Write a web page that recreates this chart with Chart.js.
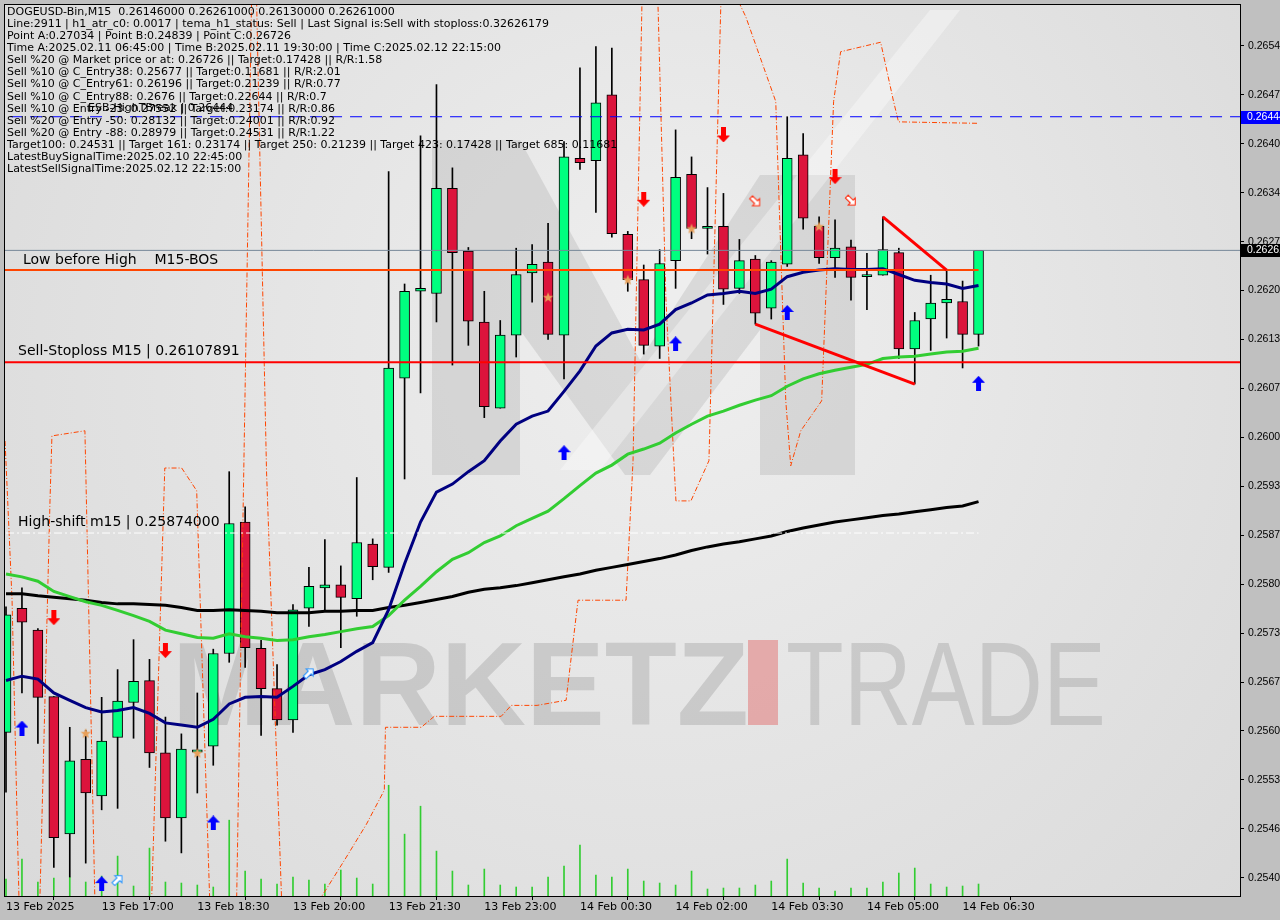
<!DOCTYPE html>
<html>
<head>
<meta charset="utf-8">
<title>DOGEUSD-Bin,M15</title>
<script src="https://cdn.jsdelivr.net/npm/chart.js@4.4.1/dist/chart.umd.min.js"></script>
<style>
  html, body { margin: 0; padding: 0; background: #c0c0c0; }
  #wrap { width: 1280px; height: 920px; }
</style>
</head>
<body>
<div id="wrap"><canvas id="chart" width="1280" height="920"></canvas></div>
<script>
// 15 minute candles, 13 Feb 15:30 .. 14 Feb 06:45 (index 0..61)
const opens = [0.25601, 0.25771, 0.25741, 0.25650, 0.25462, 0.25564, 0.25514, 0.25594, 0.25642, 0.25672,
  0.25573, 0.25484, 0.25574, 0.25582, 0.25709, 0.25889, 0.25716, 0.25661, 0.25618, 0.25771,
  0.25799, 0.25803, 0.25784, 0.25859, 0.25827, 0.26086, 0.26205, 0.26202, 0.26346, 0.26260,
  0.26163, 0.26045, 0.26145, 0.26230, 0.26245, 0.26145, 0.26387, 0.26384, 0.26474, 0.26283,
  0.26221, 0.26130, 0.26247, 0.26365, 0.26291, 0.26294, 0.26209, 0.26249, 0.26182, 0.26242,
  0.26392, 0.26294, 0.26251, 0.26266, 0.26225, 0.26227, 0.26258, 0.26126, 0.26167, 0.26189,
  0.26191, 0.26146];
const highs = [0.25773, 0.25799, 0.25743, 0.25650, 0.25608, 0.25604, 0.25649, 0.25687, 0.25728, 0.25701,
  0.25622, 0.25599, 0.25655, 0.25715, 0.25958, 0.25910, 0.25727, 0.25694, 0.25776, 0.25827,
  0.25865, 0.25829, 0.25950, 0.25866, 0.26369, 0.26215, 0.26418, 0.26488, 0.26374, 0.26265,
  0.26205, 0.26165, 0.26264, 0.26269, 0.26298, 0.26410, 0.26511, 0.26540, 0.26538, 0.26287,
  0.26241, 0.26262, 0.26426, 0.26389, 0.26347, 0.26339, 0.26276, 0.26254, 0.26247, 0.26444,
  0.26421, 0.26307, 0.26303, 0.26275, 0.26257, 0.26307, 0.26264, 0.26176, 0.26227, 0.26234,
  0.26219, 0.26261];
const lows = [0.25519, 0.25655, 0.25586, 0.25416, 0.25403, 0.25422, 0.25495, 0.25497, 0.25593, 0.25553,
  0.25452, 0.25436, 0.25518, 0.25556, 0.25697, 0.25690, 0.25597, 0.25611, 0.25601, 0.25746,
  0.25769, 0.25717, 0.25760, 0.25810, 0.25820, 0.25948, 0.26066, 0.26163, 0.26104, 0.26131,
  0.26032, 0.26045, 0.26115, 0.26190, 0.26139, 0.26085, 0.26372, 0.26313, 0.26279, 0.26205,
  0.26119, 0.26113, 0.26209, 0.26277, 0.26256, 0.26187, 0.26202, 0.26160, 0.26167, 0.26239,
  0.26290, 0.26243, 0.26224, 0.26193, 0.26180, 0.26227, 0.26113, 0.26078, 0.26124, 0.26141,
  0.26100, 0.26130];
const closes = [0.25762, 0.25752, 0.25649, 0.25457, 0.25562, 0.25518, 0.25589, 0.25644, 0.25671, 0.25573,
  0.25484, 0.25578, 0.25577, 0.25709, 0.25887, 0.25717, 0.25661, 0.25618, 0.25769, 0.25801,
  0.25803, 0.25786, 0.25861, 0.25828, 0.26100, 0.26205, 0.26209, 0.26346, 0.26258, 0.26164,
  0.26047, 0.26145, 0.26228, 0.26242, 0.26146, 0.26389, 0.26381, 0.26463, 0.26284, 0.26221,
  0.26131, 0.26243, 0.26361, 0.26291, 0.26294, 0.26208, 0.26247, 0.26175, 0.26245, 0.26387,
  0.26305, 0.26251, 0.26264, 0.26224, 0.26228, 0.26262, 0.26126, 0.26165, 0.26189, 0.26194,
  0.26146, 0.26261];
const volumes = [170, 370, 140, 180, 190, 140, 200, 400, 100, 480, 140, 130, 110, 90, 760, 250, 170, 120, 190, 160,
  120, 260, 180, 120, 1110, 620, 900, 450, 250, 110, 270, 110, 90, 90, 190, 300, 510, 210, 190, 270,
  150, 130, 110, 250, 70, 80, 80, 110, 150, 370, 130, 80, 50, 80, 80, 140, 230, 280, 120, 90, 100, 120];

// moving averages
const maFast = [0.25672, 0.25678, 0.25674, 0.25655, 0.25645, 0.25635, 0.25629, 0.25631, 0.25635, 0.25627,
  0.25614, 0.25611, 0.25608, 0.25619, 0.25640, 0.25649, 0.25650, 0.25649, 0.25664, 0.25680,
  0.25687, 0.25698, 0.25712, 0.25724, 0.25769, 0.25832, 0.25889, 0.25930, 0.25941, 0.25958,
  0.25973, 0.26000, 0.26023, 0.26034, 0.26041, 0.26068, 0.26096, 0.26130, 0.26148, 0.26153,
  0.26152, 0.26160, 0.26180, 0.26189, 0.26200, 0.26202, 0.26205, 0.26202, 0.26208, 0.26225,
  0.26231, 0.26234, 0.26236, 0.26235, 0.26235, 0.26236, 0.26228, 0.26220, 0.26217, 0.26215,
  0.26209, 0.26213];
const maMid = [0.25818, 0.25814, 0.25808, 0.25794, 0.25787, 0.25780, 0.25775, 0.25768, 0.25761, 0.25753,
  0.25741, 0.25736, 0.25731, 0.25730, 0.25736, 0.25732, 0.25730, 0.25727, 0.25728, 0.25732,
  0.25735, 0.25739, 0.25743, 0.25746, 0.25761, 0.25782, 0.25801, 0.25821, 0.25838, 0.25847,
  0.25861, 0.25870, 0.25884, 0.25894, 0.25904, 0.25921, 0.25939, 0.25956, 0.25967, 0.25982,
  0.25989, 0.25997, 0.26011, 0.26023, 0.26034, 0.26041, 0.26049, 0.26056, 0.26062, 0.26075,
  0.26085, 0.26092, 0.26097, 0.26101, 0.26105, 0.26113, 0.26115, 0.26116, 0.26119, 0.26122,
  0.26123, 0.26127];
const maSlow = [0.25791, 0.25791, 0.25788, 0.25786, 0.25784, 0.25782, 0.25779, 0.25777, 0.25777, 0.25776,
  0.25775, 0.25772, 0.25768, 0.25768, 0.25769, 0.25768, 0.25767, 0.25765, 0.25765, 0.25765,
  0.25767, 0.25767, 0.25768, 0.25768, 0.25772, 0.25775, 0.25779, 0.25783, 0.25787, 0.25793,
  0.25797, 0.25799, 0.25802, 0.25806, 0.25810, 0.25814, 0.25818, 0.25823, 0.25827, 0.25831,
  0.25835, 0.25839, 0.25844, 0.25850, 0.25855, 0.25859, 0.25862, 0.25866, 0.25870, 0.25876,
  0.25881, 0.25885, 0.25889, 0.25892, 0.25895, 0.25898, 0.25900, 0.25903, 0.25906, 0.25909,
  0.25911, 0.25917];

// stepped channel (dash-dot orange)
const chanIdx = [-0.06, 0.38, 0.81, 2.13, 2.76, 2.88, 4.95, 5.57, 9.14, 9.96, 11.02, 11.96, 12.77, 14.47, 15.40, 15.72,
  16.34, 17.28, 19.79, 21.20, 22.60, 23.73, 23.80, 26.05, 26.86, 31.06, 31.69, 33.31, 35.13, 35.88, 38.89, 39.33, 39.89,
  40.89, 41.39, 41.89, 42.02, 42.96, 44.09, 44.84, 45.96, 46.40, 48.28, 48.91, 49.22, 49.85, 51.16, 51.91, 52.35,
  54.86, 55.67, 55.98, 60.93];
const chanPrice = [0.26000, 0.25782, 0.25376, 0.25376, 0.25918, 0.26007, 0.26014, 0.25376, 0.25376, 0.25963, 0.25963,
  0.25932, 0.25376, 0.25376, 0.26601, 0.26601, 0.25959, 0.25376, 0.25376, 0.25425, 0.25475, 0.25522, 0.25608, 0.25608,
  0.25623, 0.25623, 0.25638, 0.25638, 0.25645, 0.25782, 0.25782, 0.25973, 0.26601, 0.26601, 0.26195, 0.25973, 0.25918,
  0.25918, 0.25973, 0.26601, 0.26601, 0.26581, 0.26465, 0.26055, 0.25966, 0.26014, 0.26055, 0.26465, 0.26533, 0.26546,
  0.26465, 0.26437, 0.26435];

// signals
const buyIdx = [1, 6, 13, 35, 42, 49, 61];
const buyPrice = [0.25607, 0.25394, 0.25477, 0.25984, 0.26133, 0.26176, 0.26079];
const sellIdx = [3, 10, 40, 45, 52];
const sellPrice = [0.25758, 0.25713, 0.26331, 0.26419, 0.26362];
const hollowBuyIdx = [7, 19];
const hollowBuyPrice = [0.25399, 0.25682];
const hollowSellIdx = [47, 53];
const hollowSellPrice = [0.26328, 0.26329];
const starIdx = [5, 12, 34, 39, 43, 51];
const starPrice = [0.25600, 0.25573, 0.26197, 0.26221, 0.26291, 0.26294];

// levels
const bosLevel = 0.26234;
const stopLevel = 0.26107891;
const lastPrice = 0.26261;
const esbLevel = 0.26444;
const highShift = 0.25874;
const triUpperIdx = [55, 59];
const triUpperPrice = [0.26307, 0.26234];
const triLowerIdx = [47, 57];
const triLowerPrice = [0.26160, 0.26078];

// axes
const xTickIdx = [0, 6, 12, 18, 24, 30, 36, 42, 48, 54, 60];
const xTickLabels = ['13 Feb 2025', '13 Feb 17:00', '13 Feb 18:30', '13 Feb 20:00', '13 Feb 21:30', '13 Feb 23:00',
  '14 Feb 00:30', '14 Feb 02:00', '14 Feb 03:30', '14 Feb 05:00', '14 Feb 06:30'];
const yTickValues = [0.26541, 0.26474, 0.26407, 0.26340, 0.26273, 0.26206, 0.26139, 0.26072, 0.26005,
  0.25938, 0.25871, 0.25804, 0.25737, 0.25670, 0.25603, 0.25536, 0.25469, 0.25402];
const yTickLabels = ['0.26541', '0.26474', '0.26407', '0.26340', '0.26273', '0.26206', '0.26139', '0.26072', '0.26005',
  '0.25938', '0.25871', '0.25804', '0.25737', '0.25670', '0.25603', '0.25536', '0.25469', '0.25402'];

const infoLines = [
  'DOGEUSD-Bin,M15  0.26146000 0.26261000 0.26130000 0.26261000',
  'Line:2911 | h1_atr_c0: 0.0017 | tema_h1_status: Sell | Last Signal is:Sell with stoploss:0.32626179',
  'Point A:0.27034 | Point B:0.24839 | Point C:0.26726',
  'Time A:2025.02.11 06:45:00 | Time B:2025.02.11 19:30:00 | Time C:2025.02.12 22:15:00',
  'Sell %20 @ Market price or at: 0.26726 || Target:0.17428 || R/R:1.58',
  'Sell %10 @ C_Entry38: 0.25677 || Target:0.11681 || R/R:2.01',
  'Sell %10 @ C_Entry61: 0.26196 || Target:0.21239 || R/R:0.77',
  'Sell %10 @ C_Entry88: 0.2676 || Target:0.22644 || R/R:0.7',
  'Sell %10 @ Entry -23: 0.27552 || Target:0.23174 || R/R:0.86',
  'Sell %20 @ Entry -50: 0.28132 || Target:0.24001 || R/R:0.92',
  'Sell %20 @ Entry -88: 0.28979 || Target:0.24531 || R/R:1.22',
  'Target100: 0.24531 || Target 161: 0.23174 || Target 250: 0.21239 || Target 423: 0.17428 || Target 685: 0.11681',
  'LatestBuySignalTime:2025.02.10 22:45:00',
  'LatestSellSignalTime:2025.02.12 22:15:00'
];

const GREEN = '#00FF7F';
const RED = '#DC143C';

function pts(xs, ys) { return xs.map((x, i) => ({ x: x, y: ys[i] })); }

// small signal glyphs used as point styles
function fatArrow(color, down) {
  const c = document.createElement('canvas');
  c.width = 13; c.height = 15;
  const g = c.getContext('2d');
  if (down) { g.translate(0, 15); g.scale(1, -1); }
  g.fillStyle = color;
  g.beginPath();
  g.moveTo(6.5, 0); g.lineTo(13, 7); g.lineTo(9, 7); g.lineTo(9, 15);
  g.lineTo(4, 15); g.lineTo(4, 7); g.lineTo(0, 7); g.closePath();
  g.fill();
  return c;
}
function hollowArrow(color, angle) {
  const c = document.createElement('canvas');
  c.width = 16; c.height = 16;
  const g = c.getContext('2d');
  g.translate(8, 8); g.rotate(angle);
  g.beginPath();
  g.moveTo(0, -6); g.lineTo(5, -1); g.lineTo(2, -1); g.lineTo(2, 6);
  g.lineTo(-2, 6); g.lineTo(-2, -1); g.lineTo(-5, -1); g.closePath();
  g.fillStyle = '#ffffff'; g.fill();
  g.strokeStyle = color; g.lineWidth = 1; g.stroke();
  return c;
}
function star() {
  const c = document.createElement('canvas');
  c.width = 12; c.height = 12;
  const g = c.getContext('2d');
  g.translate(6, 6.5);
  g.beginPath();
  for (let k = 0; k < 10; k++) {
    const r = k % 2 ? 2.3 : 5.5;
    const a = -Math.PI / 2 + k * Math.PI / 5;
    g.lineTo(r * Math.cos(a), r * Math.sin(a));
  }
  g.closePath();
  g.fillStyle = '#E8A05A'; g.fill();
  return c;
}

const backdrop = {
  id: 'backdrop',
  beforeDraw(chart) {
    const { ctx, chartArea: a } = chart;
    ctx.save();
    ctx.fillStyle = '#c0c0c0';
    ctx.fillRect(0, 0, chart.width, chart.height);
    const g = ctx.createRadialGradient(a.left + a.width * 0.55, a.top + a.height * 0.35, 40,
      a.left + a.width * 0.5, a.top + a.height * 0.45, a.width * 0.8);
    g.addColorStop(0, '#eeeeee');
    g.addColorStop(1, '#d5d5d5');
    ctx.fillStyle = g;
    ctx.fillRect(a.left, a.top, a.width, a.height);

    ctx.beginPath();
    ctx.rect(a.left, a.top, a.width, a.height);
    ctx.clip();
    // big "M" logo
    ctx.fillStyle = 'rgba(120,120,120,0.18)';
    ctx.beginPath();
    ctx.moveTo(432, 475); ctx.lineTo(432, 140); ctx.lineTo(520, 140); ctx.lineTo(640, 360);
    ctx.lineTo(760, 175); ctx.lineTo(855, 175); ctx.lineTo(855, 475); ctx.lineTo(760, 475);
    ctx.lineTo(760, 330); ctx.lineTo(650, 475); ctx.lineTo(625, 475); ctx.lineTo(520, 330);
    ctx.lineTo(520, 475); ctx.closePath();
    ctx.fill();
    ctx.fillStyle = 'rgba(255,255,255,0.35)';
    ctx.beginPath();
    ctx.moveTo(560, 470); ctx.lineTo(930, 10); ctx.lineTo(960, 10); ctx.lineTo(600, 470);
    ctx.closePath();
    ctx.fill();
    // MARKETZ | TRADE
    ctx.textBaseline = 'alphabetic';
    ctx.fillStyle = 'rgba(150,150,150,0.35)';
    ctx.font = 'bold 118px "Liberation Sans", Arial, sans-serif';
    ctx.fillText('MARKETZ', 172, 725);
    ctx.fillStyle = 'rgba(225,120,120,0.55)';
    ctx.fillRect(748, 640, 30, 85);
    ctx.save();
    ctx.translate(786, 725);
    ctx.scale(0.8, 1);
    ctx.fillStyle = 'rgba(150,150,150,0.35)';
    ctx.font = '118px "Liberation Sans", Arial, sans-serif';
    ctx.fillText('TRADE', 0, 0);
    ctx.restore();
    ctx.restore();
  }
};

const overlay = {
  id: 'overlay',
  afterDraw(chart) {
    const { ctx, chartArea: a } = chart;
    const y = chart.scales.y;
    ctx.save();
    // frame
    ctx.strokeStyle = '#000';
    ctx.lineWidth = 1;
    ctx.strokeRect(a.left - 0.5, a.top - 0.5, a.width + 1, a.height + 1);

    // info block
    ctx.fillStyle = '#000';
    ctx.font = '11px "DejaVu Sans", sans-serif';
    ctx.textBaseline = 'middle';
    infoLines.forEach((t, i) => ctx.fillText(t, 7, 12 + i * 12.1));
    ctx.fillText('ESB-HighTBreak | 0.26444', 88, 108);

    // level captions
    ctx.font = '14px "DejaVu Sans", sans-serif';
    ctx.textBaseline = 'bottom';
    ctx.fillText('Low before High    M15-BOS', 23, y.getPixelForValue(bosLevel) - 3);
    ctx.fillText('Sell-Stoploss M15 | ' + stopLevel.toFixed(8), 18, y.getPixelForValue(stopLevel) - 4);
    ctx.fillText('High-shift m15 | ' + highShift.toFixed(8), 18, y.getPixelForValue(highShift) - 4);

    // price badges on the axis
    ctx.font = '10.5px "Liberation Sans", Arial, sans-serif';
    ctx.textBaseline = 'middle';
    [[esbLevel, '#0000FF'], [lastPrice, '#000000']].forEach(([v, col]) => {
      const py = Math.round(y.getPixelForValue(v));
      ctx.fillStyle = col;
      ctx.fillRect(a.right + 1, py - 6, chart.width - a.right, 13);
      ctx.fillStyle = '#fff';
      ctx.fillText(v.toFixed(5), a.right + 7, py + 0.5);
    });
    ctx.restore();
  }
};

function hline(v, x0, x1, color, width, dash, order) {
  return { type: 'line', data: pts([x0, x1], [v, v]), borderColor: color, borderWidth: width,
    borderDash: dash || [], pointRadius: 0, order: order };
}

new Chart(document.getElementById('chart'), {
  type: 'bar',
  data: {
    datasets: [
      { type: 'bar', yAxisID: 'yv', data: pts(opens.map((_, i) => i), volumes), backgroundColor: '#32CD32',
        barThickness: 1, grouped: false, order: 30 },
      { type: 'bar', data: lows.map((l, i) => ({ x: i, y: [l, highs[i]] })), backgroundColor: '#000',
        barThickness: 1, grouped: false, order: 29 },
      { type: 'bar', data: opens.map((o, i) => ({ x: i, y: [o, closes[i]] })),
        backgroundColor: opens.map((o, i) => closes[i] >= o ? GREEN : RED),
        borderColor: '#000', borderWidth: 1, borderSkipped: false, barThickness: 10, grouped: false, order: 28 },
      { type: 'line', data: pts(chanIdx, chanPrice), borderColor: '#FF4500', borderWidth: 1,
        borderDash: [5, 2, 1, 2], pointRadius: 0, order: 20 },
      { type: 'line', data: pts(maSlow.map((_, i) => i), maSlow), borderColor: '#000', borderWidth: 3, pointRadius: 0, order: 12 },
      { type: 'line', data: pts(maMid.map((_, i) => i), maMid), borderColor: '#32CD32', borderWidth: 3, pointRadius: 0, order: 11 },
      { type: 'line', data: pts(maFast.map((_, i) => i), maFast), borderColor: '#000080', borderWidth: 3, pointRadius: 0, order: 10 },
      hline(lastPrice, -1, 80, '#778899', 1, null, 9),
      hline(esbLevel, -1, 80, '#0000FF', 1, [12, 8], 8),
      hline(highShift, -1, 61, '#ffffff', 1, [8, 3, 2, 3], 8),
      hline(bosLevel, -1, 61, '#FF4500', 2, null, 7),
      hline(stopLevel, -1, 80, '#FF0000', 2, null, 7),
      { type: 'line', data: pts(triUpperIdx, triUpperPrice), borderColor: '#FF0000', borderWidth: 3, pointRadius: 0, order: 6 },
      { type: 'line', data: pts(triLowerIdx, triLowerPrice), borderColor: '#FF0000', borderWidth: 3, pointRadius: 0, order: 6 },
      { type: 'scatter', data: pts(buyIdx, buyPrice), pointStyle: fatArrow('#0000FF', false), order: 2 },
      { type: 'scatter', data: pts(sellIdx, sellPrice), pointStyle: fatArrow('#FF0000', true), order: 2 },
      { type: 'scatter', data: pts(hollowBuyIdx, hollowBuyPrice), pointStyle: hollowArrow('#1E90FF', Math.PI / 4), order: 2 },
      { type: 'scatter', data: pts(hollowSellIdx, hollowSellPrice), pointStyle: hollowArrow('#FF2000', Math.PI * 3 / 4), order: 2 },
      { type: 'scatter', data: pts(starIdx, starPrice), pointStyle: star(), order: 2 }
    ]
  },
  options: {
    responsive: false,
    animation: false,
    devicePixelRatio: 1,
    layout: { padding: { left: 3, top: 3, right: 0, bottom: 0 } },
    plugins: { legend: { display: false }, tooltip: { enabled: false } },
    scales: {
      x: {
        type: 'linear', min: -0.063, max: 77.4, offset: false,
        grid: { display: true, drawOnChartArea: false, drawTicks: true, tickLength: 4, color: '#000' },
        border: { display: true, color: '#000' },
        afterBuildTicks: s => { s.ticks = xTickIdx.map(v => ({ value: v })); },
        afterFit: s => { s.height = 24; s.paddingLeft = 0; s.paddingRight = 0; },
        ticks: { autoSkip: false, maxRotation: 0, align: 'start', padding: 1, color: '#000',
          font: { family: '"DejaVu Sans", sans-serif', size: 11 },
          callback: (v, i) => xTickLabels[i] }
      },
      y: {
        position: 'right', min: 0.25377, max: 0.26597,
        grid: { display: true, drawOnChartArea: false, drawTicks: true, tickLength: 4, color: '#000' },
        border: { display: true, color: '#000' },
        afterBuildTicks: s => { s.ticks = yTickValues.map(v => ({ value: v })); },
        afterFit: s => { s.width = 40; s.paddingTop = 0; s.paddingBottom = 0; },
        ticks: { autoSkip: false, padding: 4, color: '#000',
          font: { family: '"Liberation Sans", Arial, sans-serif', size: 10.5 },
          callback: (v, i) => yTickLabels[i] }
      },
      yv: { display: false, min: 0, max: 8930 }
    }
  },
  plugins: [backdrop, overlay]
});
</script>
</body>
</html>
